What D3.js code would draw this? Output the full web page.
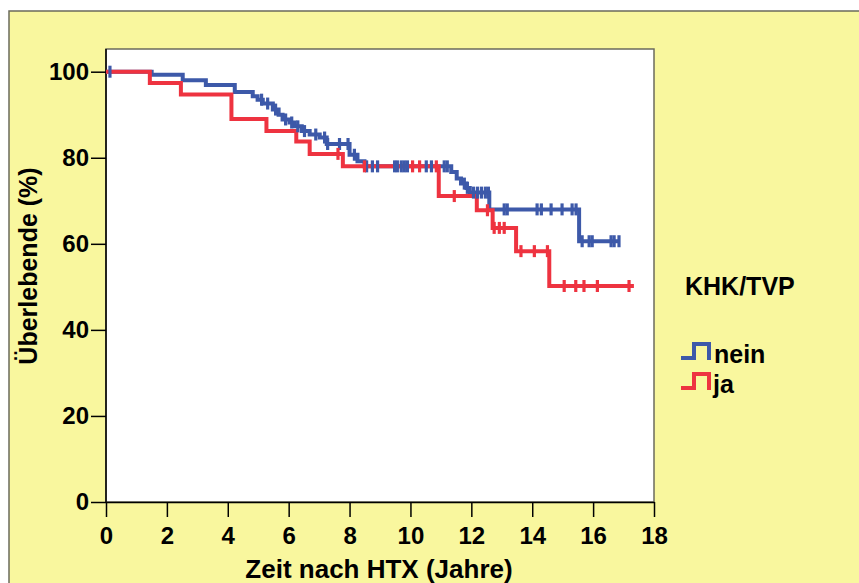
<!DOCTYPE html>
<html lang="de">
<head>
    <meta charset="UTF-8">
    <script src="https://d3js.org/d3.v7.min.js"></script>
    <title>Überleben nach HTX</title>
    <style>
        body { margin: 0; background: #fff; }
        svg text { font-family: "Liberation Sans", Arial, sans-serif; font-weight: bold; fill: #000; }
    </style>
</head>
<body>

<script>
    // Kaplan-Meier steps: time (Jahre) and survival (%) after each step
    const neinTimes = [0, 1.50, 2.52, 3.28, 4.23, 4.82, 4.98, 5.15, 5.48, 5.67, 5.80, 6.03, 6.20, 6.43, 6.69, 7.02, 7.25, 8.00, 8.26, 8.49, 11.34, 11.52, 11.66, 11.84, 11.95, 12.59, 15.54];
    const neinSurv  = [100, 99.3, 98.0, 96.9, 95.3, 94.3, 93.5, 92.6, 91.2, 90.0, 88.9, 88.2, 87.3, 86.2, 85.4, 84.7, 83.2, 80.7, 79.2, 78.0, 76.7, 75.2, 74.0, 73.0, 71.9, 68.0, 60.6];
    const neinEnd = 16.85;
    const neinCensored = [0.13, 5.11, 5.31, 5.57, 5.90, 6.10, 6.30, 6.52, 6.89, 7.18, 7.28, 7.67, 7.95, 8.16,
        8.56, 8.75, 8.92, 9.48, 9.57, 9.70, 9.80, 9.90, 10.52, 10.69, 11.11, 11.21,
        11.77, 11.87, 12.07, 12.20, 12.33, 12.46, 12.56,
        13.08, 13.18, 14.16, 14.30, 14.62, 14.98, 15.31, 15.44,
        15.64, 15.87, 15.97, 16.59, 16.69, 16.85];

    const jaTimes = [0, 1.44, 2.46, 4.12, 5.27, 6.25, 6.69, 7.78, 10.93, 12.18, 12.70, 13.47, 14.56];
    const jaSurv  = [100, 97.4, 94.7, 89.0, 86.2, 83.8, 80.9, 78.0, 71.1, 67.8, 63.7, 58.3, 50.2];
    const jaEnd = 17.34;
    const jaCensored = [7.62, 8.49, 10.07, 10.30, 10.85, 11.44, 12.53, 12.75, 12.92, 13.08,
        13.63, 14.07, 14.50, 15.05, 15.43, 15.70, 16.14, 17.18];

    const xTicks = [0, 2, 4, 6, 8, 10, 12, 14, 16, 18];
    const yTicks = [0, 20, 40, 60, 80, 100];
    const groups = ["nein", "ja"];
    const colors = { nein: "#3d59a9", ja: "#ee3340" };

    const W = 859, H = 583;
    const plot = { left: 106, right: 654, top: 49, bottom: 502 };

    const svg = d3.select("body").append("svg")
        .attr("width", W)
        .attr("height", H);

    // yellow frame
    svg.append("rect")
        .attr("x", 9).attr("y", 11)
        .attr("width", W + 10).attr("height", H + 10)
        .attr("fill", "#f9f79e")
        .attr("stroke", "#6b6b5c")
        .attr("stroke-width", 1.5);

    // plot box
    svg.append("rect")
        .attr("x", plot.left).attr("y", plot.top)
        .attr("width", plot.right - plot.left).attr("height", plot.bottom - plot.top)
        .attr("fill", "#fff")
        .attr("stroke", "#6b6b5c")
        .attr("stroke-width", 1.5);

    const x = d3.scaleLinear().domain([0, 18]).range([plot.left, plot.right]);
    const y = d3.scaleLinear().domain([0, 100]).range([plot.bottom, 71.7]);

    // x axis
    const xAxis = svg.append("g")
        .attr("transform", "translate(0," + plot.bottom + ")")
        .call(d3.axisBottom(x).tickValues(xTicks).tickSize(15).tickSizeOuter(0).tickPadding(10));
    // y axis
    const yAxis = svg.append("g")
        .attr("transform", "translate(" + plot.left + ",0)")
        .call(d3.axisLeft(y).tickValues(yTicks).tickSize(15).tickSizeOuter(0).tickPadding(2));
    yAxis.select(".domain").attr("d", "M0," + plot.top + "V" + plot.bottom);

    [xAxis, yAxis].forEach(function(a) {
        a.selectAll("path, line").attr("stroke", "#000").attr("stroke-width", 1.5);
        a.selectAll("text").style("font-size", "24px").attr("fill", "#000");
    });

    // axis titles
    svg.append("text")
        .attr("x", (plot.left + plot.right) / 2 - 1)
        .attr("y", 578)
        .attr("text-anchor", "middle")
        .style("font-size", "26px")
        .text("Zeit nach HTX (Jahre)");

    svg.append("text")
        .attr("transform", "translate(37,266) rotate(-90)")
        .attr("text-anchor", "middle")
        .style("font-size", "25px")
        .text("Überlebende (%)");

    function levelAt(times, surv, t) {
        let s = surv[0];
        for (let i = 0; i < times.length; i++) if (times[i] <= t) s = surv[i];
        return s;
    }

    const series = {
        nein: { times: neinTimes, surv: neinSurv, end: neinEnd, cens: neinCensored },
        ja: { times: jaTimes, surv: jaSurv, end: jaEnd, cens: jaCensored }
    };

    const line = d3.line()
        .x(d => x(d[0]))
        .y(d => y(d[1]))
        .curve(d3.curveStepAfter);

    // curves
    groups.forEach(function(g) {
        const s = series[g];
        const pts = s.times.map((t, i) => [t, s.surv[i]]);
        pts.push([s.end, s.surv[s.surv.length - 1]]);
        svg.append("path")
            .datum(pts)
            .attr("fill", "none")
            .attr("stroke", colors[g])
            .attr("stroke-width", 4)
            .attr("d", line);
    });

    // censor marks
    groups.forEach(function(g) {
        const s = series[g];
        svg.append("g").selectAll("line")
            .data(s.cens)
            .enter().append("line")
            .attr("x1", d => x(d)).attr("x2", d => x(d))
            .attr("y1", d => y(levelAt(s.times, s.surv, d)) - 6)
            .attr("y2", d => y(levelAt(s.times, s.surv, d)) + 6)
            .attr("stroke", colors[g])
            .attr("stroke-width", 3.2);
    });

    // legend
    svg.append("text")
        .attr("x", 685).attr("y", 295)
        .style("font-size", "25px")
        .text("KHK/TVP");

    const legendY = { nein: 358, ja: 388 };
    groups.forEach(function(g) {
        const ly = legendY[g];
        svg.append("path")
            .attr("d", "M681," + ly + "H694V" + (ly - 14) + "H709V" + (ly + 2))
            .attr("fill", "none")
            .attr("stroke", colors[g])
            .attr("stroke-width", 4);
        svg.append("text")
            .attr("x", g === "nein" ? 714 : 713)
            .attr("y", ly + 5)
            .style("font-size", "25px")
            .text(g);
    });
</script>

</body>
</html>
